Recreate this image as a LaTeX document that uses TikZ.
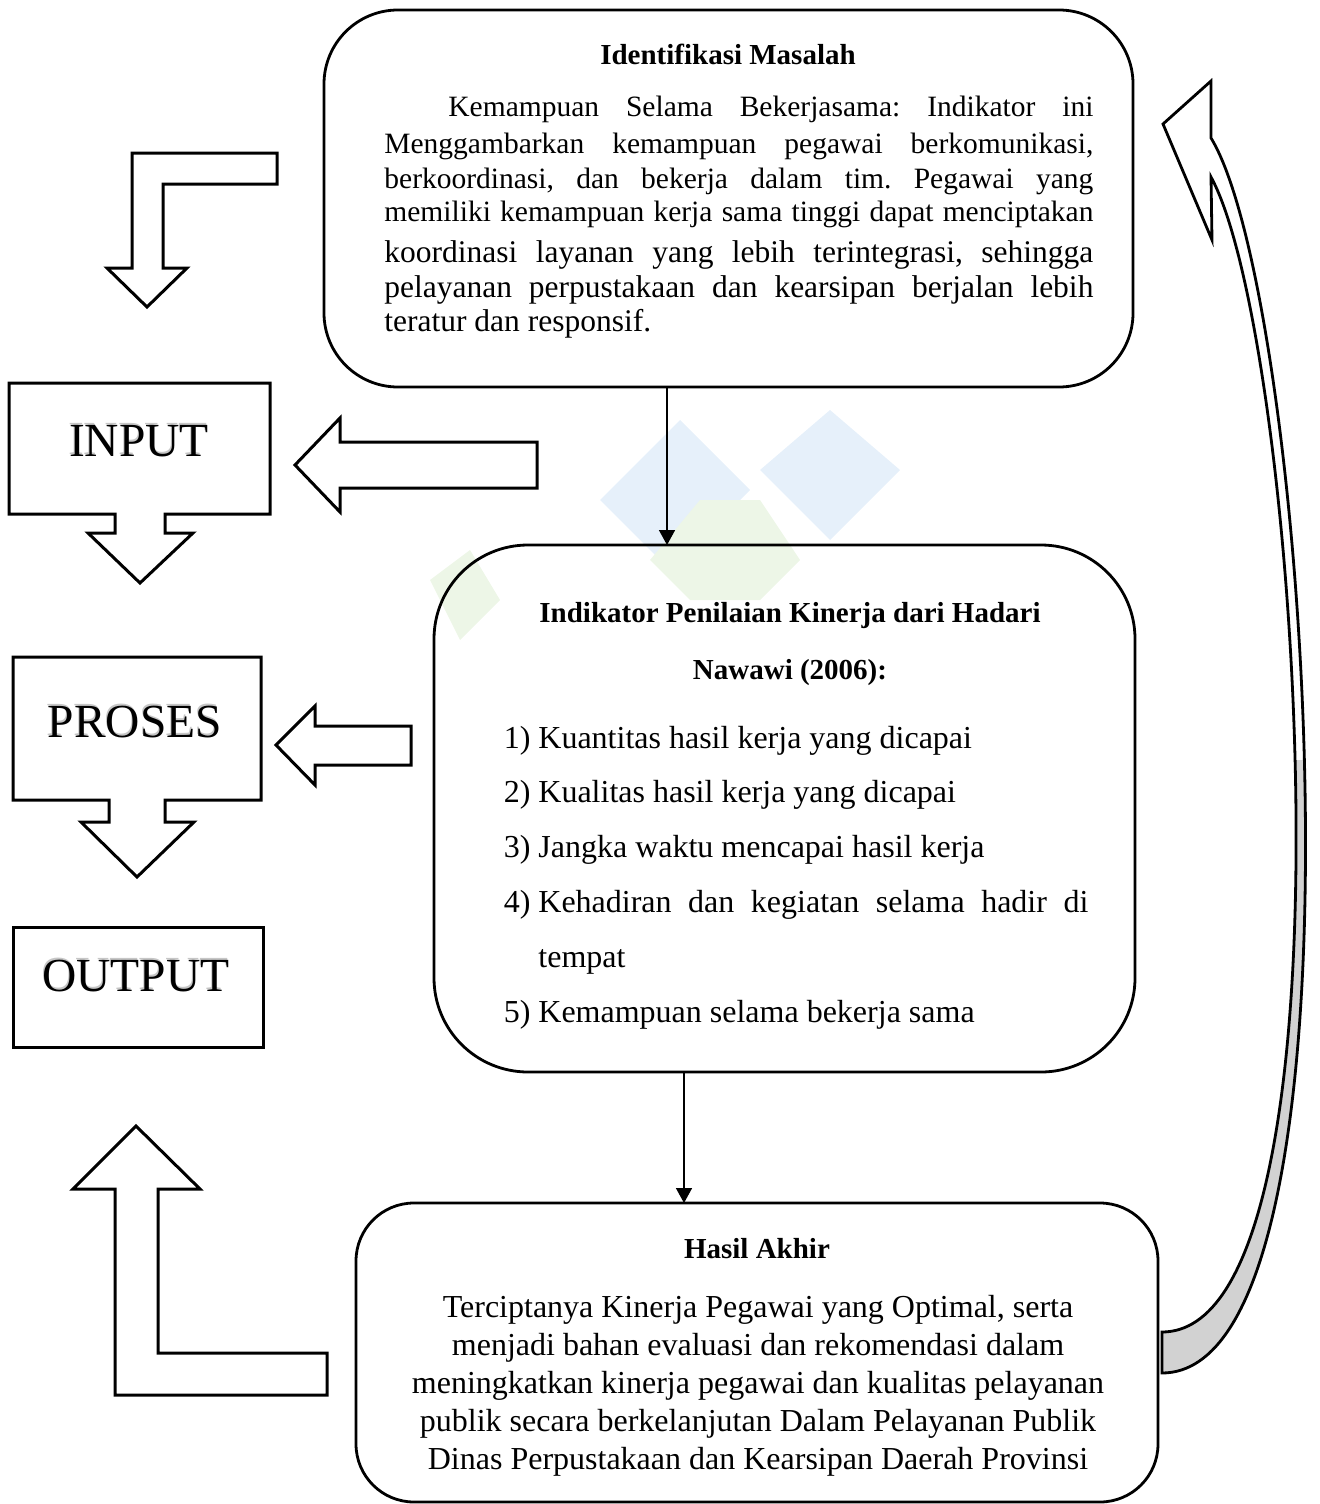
\documentclass[tikz,border=0pt]{standalone}
\usepackage{fontspec}
\setmainfont{Liberation Serif}
\usetikzlibrary{arrows.meta}
\definecolor{wmblue}{RGB}{230,240,250}
\definecolor{wmgreen}{RGB}{237,246,231}
\begin{document}
\frenchspacing
\begin{tikzpicture}[x=0.5pt,y=-0.5pt,
  rbox/.style={draw, line width=1.4pt, inner sep=0pt, outer sep=0pt},
  blockarrow/.style={draw, line width=1.5pt, fill=white, line join=miter},
  thinarrow/.style={line width=0.8pt, -{Triangle[width=8pt,length=7.5pt]}},
  bigtxt/.style={font=\fontsize{23.75pt}{28pt}\selectfont, inner sep=0pt, anchor=base},
  shadowtxt/.style={bigtxt, text=gray!45},
  ttl/.style={font=\fontsize{14.5pt}{17pt}\selectfont\bfseries, inner sep=0pt, anchor=base},
  bodyA/.style={font=\fontsize{14.75pt}{17pt}\selectfont, inner sep=0pt, anchor=base west},
  bodyB/.style={font=\fontsize{15.75pt}{18pt}\selectfont, inner sep=0pt, anchor=base west},
  item/.style={font=\fontsize{16pt}{19pt}\selectfont, inner sep=0pt, anchor=base west},
  num/.style={font=\fontsize{16pt}{19pt}\selectfont, inner sep=0pt, anchor=base east},
  ctr/.style={font=\fontsize{16pt}{19pt}\selectfont, inner sep=0pt, anchor=base}
]
\useasboundingbox (0,0) rectangle (1319,1504);

% ---------- faint watermark ----------
\fill[wmblue] (600,500) -- (680,420) -- (750,490) -- (670,570) -- cycle;
\fill[wmblue] (760,470) -- (830,410) -- (900,470) -- (830,540) -- cycle;
\fill[wmgreen] (650,560) -- (700,500) -- (760,500) -- (800,560) -- (760,600) -- (690,600) -- cycle;
\fill[wmgreen] (430,580) -- (470,550) -- (500,600) -- (460,640) -- cycle;

% ---------- main rounded boxes ----------
\node[rbox, minimum width=404.5pt, minimum height=188.5pt, rounded corners=37pt] (top) at (728.5,198.5) {};
\node[rbox, minimum width=350.5pt, minimum height=263.5pt, rounded corners=47pt] (mid) at (784.5,808.5) {};
\node[rbox, minimum width=401pt, minimum height=149.5pt, rounded corners=29pt] (bot) at (757,1352.5) {};

% ---------- top box text ----------
\node[ttl] (t0) at (728,65) {Identifikasi Masalah};
\node[bodyA] (t1) at (448,117) {\makebox[322.5pt][s]{Kemampuan Selama Bekerjasama: Indikator ini}};
\node[bodyA] (t2) at (384,154) {\makebox[354.5pt][s]{Menggambarkan kemampuan pegawai berkomunikasi,}};
\node[bodyA] (t3) at (384,188) {\makebox[354.5pt][s]{berkoordinasi, dan bekerja dalam tim. Pegawai yang}};
\node[bodyA] (t4) at (384,221) {\makebox[354.5pt][s]{memiliki kemampuan kerja sama tinggi dapat menciptakan}};
\node[bodyB] (t5) at (384,262) {\makebox[354.5pt][s]{koordinasi layanan yang lebih terintegrasi, sehingga}};
\node[bodyB] (t6) at (384,297) {\makebox[354.5pt][s]{pelayanan perpustakaan dan kearsipan berjalan lebih}};
\node[bodyB] (t7) at (384,331) {teratur dan responsif.};

% ---------- middle box text ----------
\node[ttl] (m0) at (790,622) {Indikator Penilaian Kinerja dari Hadari};
\node[ttl] (m00) at (790,679) {Nawawi (2006):};
\node[num] (n1) at (531,748) {1)};
\node[item] (i1) at (538,748) {Kuantitas hasil kerja yang dicapai};
\node[num] (n2) at (531,802) {2)};
\node[item] (i2) at (538,802) {Kualitas hasil kerja yang dicapai};
\node[num] (n3) at (531,857) {3)};
\node[item] (i3) at (538,857) {Jangka waktu mencapai hasil kerja};
\node[num] (n4) at (531,912) {4)};
\node[item] (i4) at (538,912) {\makebox[275pt][s]{Kehadiran dan kegiatan selama hadir di}};
\node[item] (i4b) at (538,967) {tempat};
\node[num] (n5) at (531,1022) {5)};
\node[item] (i5) at (538,1022) {Kemampuan selama bekerja sama};

% ---------- bottom box text ----------
\node[ttl] (b0) at (757,1258) {Hasil Akhir};
\node[ctr] (b1) at (758,1317) {Terciptanya Kinerja Pegawai yang Optimal, serta};
\node[ctr] (b2) at (758,1355) {menjadi bahan evaluasi dan rekomendasi dalam};
\node[ctr] (b3) at (758,1393) {meningkatkan kinerja pegawai dan kualitas pelayanan};
\node[ctr] (b4) at (758,1431) {publik secara berkelanjutan Dalam Pelayanan Publik};
\node[ctr] (b5) at (758,1469) {Dinas Perpustakaan dan Kearsipan Daerah Provinsi};

% ---------- thin connectors ----------
\coordinate (xa) at (667,0);
\coordinate (xb) at (684,0);
\draw[thinarrow] (top.south -| xa) -- (mid.north -| xa);
\draw[thinarrow] (mid.south -| xb) -- (bot.north -| xb);

% ---------- left column ----------
% top bent arrow
\path[blockarrow] (132,153) -- (277,153) -- (277,184) -- (163,184) -- (163,268) -- (187,268)
  -- (147,307) -- (107,268) -- (132,268) -- cycle;

% INPUT callout
\path[blockarrow] (9,383) -- (270,383) -- (270,514) -- (165,514) -- (165,533) -- (193,533)
  -- (140,583) -- (88,533) -- (115,533) -- (115,514) -- (9,514) -- cycle;
\node[shadowtxt] (inputs) at (138,454) {INPUT};
\node[bigtxt] (input) at (139,456) {INPUT};
\path[blockarrow] (295,465) -- (340,418) -- (340,442) -- (537,442) -- (537,488) -- (340,488)
  -- (340,512) -- cycle;

% PROSES callout
\path[blockarrow] (13,657) -- (261,657) -- (261,800) -- (165,800) -- (165,822) -- (194,822)
  -- (137,877) -- (81,822) -- (109,822) -- (109,800) -- (13,800) -- cycle;
\node[shadowtxt] (prosess) at (134,735) {PROSES};
\node[bigtxt] (proses) at (135,737) {PROSES};
\path[blockarrow] (276,745) -- (315,706) -- (315,726) -- (411,726) -- (411,765) -- (315,765)
  -- (315,785) -- cycle;

% OUTPUT box
\node[draw, line width=1.5pt, inner sep=0pt, minimum width=125pt, minimum height=60pt] (outbox) at (138,987) {};
\node[shadowtxt] (outputs) at (135,989) {OUTPUT};
\node[bigtxt] (output) at (136,991) {OUTPUT};

% bottom bent arrow
\path[blockarrow] (136,1126) -- (200,1189) -- (158,1189) -- (158,1353) -- (327,1353) -- (327,1395)
  -- (115,1395) -- (115,1189) -- (73,1189) -- cycle;

% ---------- curved return arrow ----------
\path[fill=white] (1211,81) -- (1211,138) .. controls (1310,300) and (1380,1373) .. (1162,1373)
  -- (1162,1332) .. controls (1365,1332) and (1300,340) .. (1211,177) -- (1212,240) -- (1163,124) -- cycle;
\begin{scope}
  \clip (1100,760) rectangle (1319,1400);
  \fill[gray!35] (1211,138) .. controls (1310,300) and (1380,1373) .. (1162,1373)
    -- (1162,1332) .. controls (1365,1332) and (1300,340) .. (1211,177) -- cycle;
\end{scope}
\draw[line width=1.4pt, line join=miter] (1211,81) -- (1211,138) .. controls (1310,300) and (1380,1373) .. (1162,1373)
  -- (1162,1332) .. controls (1365,1332) and (1300,340) .. (1211,177) -- (1212,240) -- (1163,124) -- cycle;
\end{tikzpicture}
\end{document}
